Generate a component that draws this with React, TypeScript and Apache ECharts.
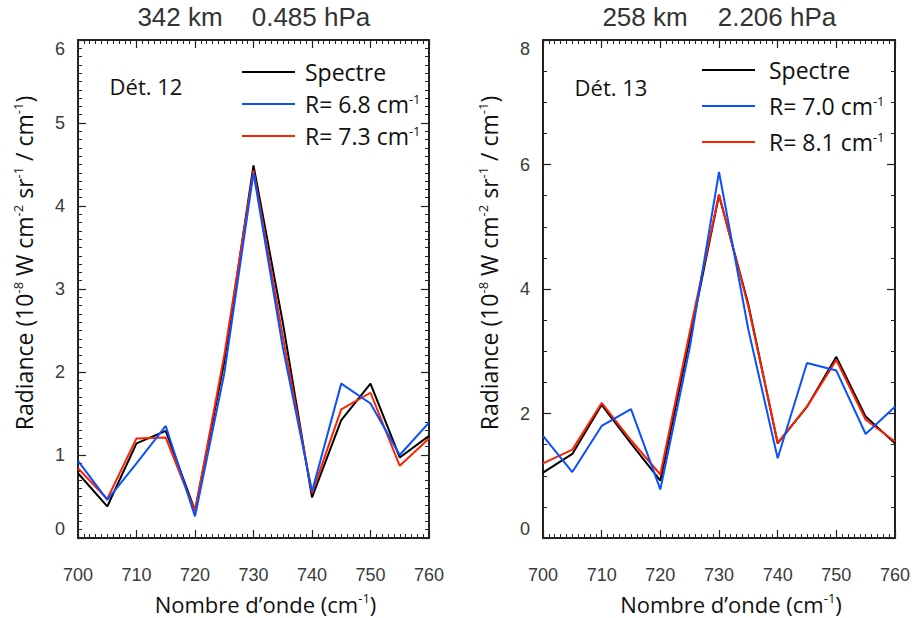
import React, { useEffect, useRef } from "react";
import * as echarts from "echarts";

const wavenumbers = [700, 705, 710, 715, 720, 725, 730, 735, 740, 745, 750, 755, 760];

const spectre12 = [0.78, 0.38, 1.14, 1.29, 0.33, 2.12, 4.49, 2.6, 0.49, 1.42, 1.86, 0.97, 1.23];
const blue12 = [0.93, 0.46, 0.9, 1.35, 0.26, 1.98, 4.4, 2.3, 0.56, 1.86, 1.62, 1.0, 1.39];
const red12 = [0.84, 0.47, 1.2, 1.21, 0.32, 2.2, 4.43, 2.43, 0.54, 1.55, 1.75, 0.87, 1.2];

const spectre13 = [1.05, 1.35, 2.14, 1.52, 0.92, 3.2, 5.51, 3.75, 1.52, 2.11, 2.91, 1.95, 1.52];
const blue13 = [1.64, 1.06, 1.8, 2.07, 0.78, 3.05, 5.88, 3.35, 1.28, 2.81, 2.69, 1.67, 2.11];
const red13 = [1.2, 1.42, 2.17, 1.57, 1.02, 3.3, 5.52, 3.72, 1.53, 2.11, 2.86, 1.9, 1.55];

const names12 = ["Spectre", "R= 6.8 cm-1", "R= 7.3 cm-1"];
const names13 = ["Spectre", "R= 7.0 cm-1", "R= 8.1 cm-1"];
const titles12 = ["342 km", "0.485 hPa"];
const titles13 = ["258 km", "2.206 hPa"];
const detLabels = ["Dét. 12", "Dét. 13"];
const xTitle = "Nombre d’onde (cm{sup|-1})";
const yTitle = "Radiance (10{sup|-8} W cm{sup|-2} sr{sup|-1} / cm{sup|-1})";

const BLACK = "#000000";
const BLUE = "#0a50ff";
const RED = "#ff2200";
const AXIS = "#222222";
const SANS = "'Open Sans', 'Noto Sans', sans-serif";
const HELV = "'Liberation Sans', Arial, sans-serif";

const pairs = (ys: number[]) => wavenumbers.map((x, i) => [x, ys[i]]);

export default function App() {
  const ref = useRef<HTMLDivElement>(null);
  useEffect(() => {
    if (!ref.current) return;
    const chart = echarts.init(ref.current, null, { renderer: "svg" });

    const grids = [
      { left: 78, top: 40, width: 351, height: 498, outerBoundsMode: "none", containLabel: false },
      { left: 543, top: 40, width: 352, height: 498, outerBoundsMode: "none", containLabel: false },
    ];

    const xBase = (gridIndex: number, pos: "bottom" | "top") => ({
      type: "value",
      gridIndex,
      position: pos,
      min: 700,
      max: 760,
      interval: 10,
      axisLine: { show: true, onZero: false, lineStyle: { color: AXIS, width: 2 } },
      axisTick: { show: true, inside: true, length: 8, lineStyle: { color: AXIS, width: 1.2 } },
      minorTick: { show: true, splitNumber: 10, length: 4, lineStyle: { color: AXIS, width: 1 } },
      splitLine: { show: false },
      minorSplitLine: { show: false },
      axisLabel: pos === "bottom"
        ? { show: true, margin: 28, fontSize: 18, color: "#3a3a3a", fontFamily: HELV }
        : { show: false },
      name: pos === "bottom" ? xTitle : "",
      nameLocation: "middle",
      nameGap: 53,
      nameTextStyle: {
        fontSize: 22,
        fontFamily: SANS,
        color: "#111",
        padding: [0, 0, 0, 24],
        rich: { sup: { fontSize: 13, fontFamily: SANS, color: "#111", verticalAlign: "top", lineHeight: 26 } },
      },
    });

    const yBase = (gridIndex: number, pos: "left" | "right", max: number, interval: number, split: number) => ({
      type: "value",
      gridIndex,
      position: pos,
      min: 0,
      max,
      interval,
      axisLine: { show: true, onZero: false, lineStyle: { color: AXIS, width: 2 } },
      axisTick: { show: true, inside: true, length: 8, lineStyle: { color: AXIS, width: 1.2 } },
      minorTick: { show: true, splitNumber: split, length: 4, lineStyle: { color: AXIS, width: 1 } },
      splitLine: { show: false },
      minorSplitLine: { show: false },
      axisLabel: pos === "left"
        ? {
            show: true,
            margin: 13,
            fontSize: 18,
            color: "#3a3a3a",
            fontFamily: HELV,
            verticalAlignMinLabel: "bottom",
            verticalAlignMaxLabel: "top",
          }
        : { show: false },
    });

    const lineSeries = (name: string, data: number[], color: string, idx: number) => ({
      type: "line",
      name,
      xAxisIndex: idx,
      yAxisIndex: idx,
      data: pairs(data),
      symbol: "none",
      lineStyle: { color, width: 2 },
      itemStyle: { color },
      clip: true,
      z: 3,
    });

    const legendFormatter = (gap: number) => (name: string) =>
      "{g" + gap + "|}" + name.replace("cm-1", "cm{sup|-1}");

    const legendBase = (left: number, top: number, data: string[], gap: number, itemGap: number) => ({
      orient: "vertical",
      left,
      top,
      padding: 0,
      data,
      icon: "rect",
      itemWidth: 53,
      itemHeight: 2,
      itemGap,
      selectedMode: false,
      formatter: legendFormatter(gap),
      textStyle: {
        fontSize: 23,
        fontFamily: SANS,
        color: "#111",
        lineHeight: 24,
        rich: {
          g5: { width: 5 },
          g9: { width: 9 },
          sup: { fontSize: 13, fontFamily: SANS, color: "#111", verticalAlign: "top", lineHeight: 24 },
        },
      },
    });

    const txt = (x: number, y: number, text: string, font: string, fill: string) => ({
      type: "text",
      x,
      y,
      style: { text, font, fill, align: "center", verticalAlign: "middle" },
    });

    const yName = (x: number, y: number) => ({
      type: "text",
      x,
      y,
      rotation: Math.PI / 2,
      style: {
        text: yTitle,
        font: "23px " + SANS,
        fill: "#111",
        align: "center",
        verticalAlign: "middle",
        rich: { sup: { fontSize: 13, fontFamily: SANS, fill: "#111", verticalAlign: "top", lineHeight: 26 } },
      },
    });

    chart.setOption({
      animation: false,
      backgroundColor: "#ffffff",
      grid: grids,
      xAxis: [xBase(0, "bottom"), xBase(0, "top"), xBase(1, "bottom"), xBase(1, "top")],
      yAxis: [
        yBase(0, "left", 6, 1, 10),
        yBase(0, "right", 6, 1, 10),
        yBase(1, "left", 8, 2, 4),
        yBase(1, "right", 8, 2, 4),
      ],
      legend: [
        legendBase(242, 60, names12, 5, 8),
        legendBase(702, 58, names13, 9, 12),
      ],
      series: [
        lineSeries(names12[0], spectre12, BLACK, 0),
        lineSeries(names12[2], red12, RED, 0),
        lineSeries(names12[1], blue12, BLUE, 0),
        lineSeries(names13[0], spectre13, BLACK, 2),
        lineSeries(names13[2], red13, RED, 2),
        lineSeries(names13[1], blue13, BLUE, 2),
      ],
      graphic: [
        txt(180, 17, titles12[0], "26px " + HELV, "#333"),
        txt(311, 17, titles12[1], "26px " + HELV, "#333"),
        txt(645, 17, titles13[0], "26px " + HELV, "#333"),
        txt(777, 17, titles13[1], "26px " + HELV, "#333"),
        txt(146, 86, detLabels[0], "22px " + SANS, "#111"),
        txt(611, 87, detLabels[1], "22px " + SANS, "#111"),
        yName(24, 263),
        yName(489, 263),
      ],
    });
    return () => chart.dispose();
  }, []);
  return (
    <div
      ref={ref}
      style={{ position: "absolute", left: 0, top: 0, width: 913, height: 618, background: "#fff" }}
    />
  );
}
